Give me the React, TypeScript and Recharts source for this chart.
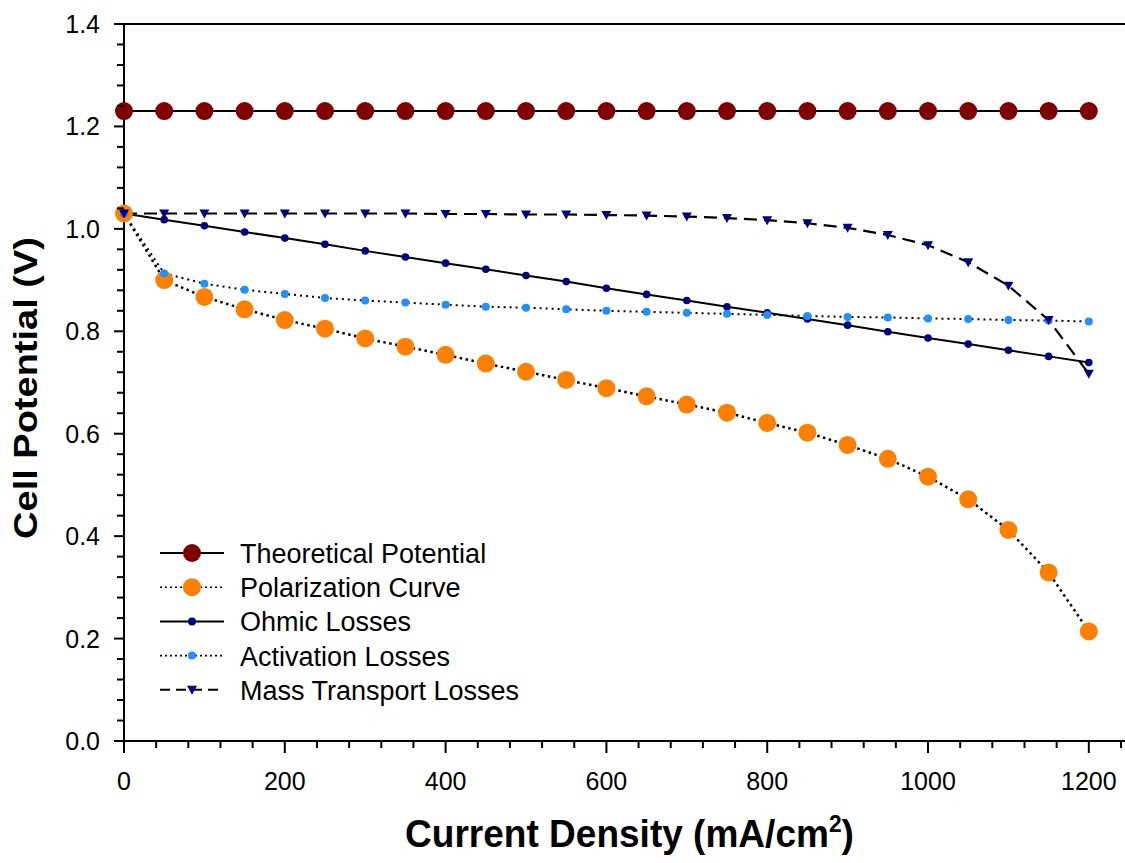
import { LineChart, Line, XAxis, YAxis, ReferenceLine, Legend, Label } from 'recharts';

const FONT = '"Liberation Sans", Arial, Helvetica, sans-serif';

// current density, mA/cm2
const currentDensity = [
  0, 50, 100, 150, 200, 250, 300, 350, 400, 450, 500, 550, 600,
  650, 700, 750, 800, 850, 900, 950, 1000, 1050, 1100, 1150, 1200,
];

// cell potential, V
const theoretical = [
  1.23, 1.23, 1.23, 1.23, 1.23, 1.23, 1.23, 1.23, 1.23, 1.23, 1.23, 1.23, 1.23,
  1.23, 1.23, 1.23, 1.23, 1.23, 1.23, 1.23, 1.23, 1.23, 1.23, 1.23, 1.23,
];
const polarization = [
  1.03, 0.9, 0.867, 0.843, 0.822, 0.805, 0.786, 0.77, 0.754, 0.737, 0.721, 0.705, 0.689,
  0.673, 0.657, 0.641, 0.621, 0.602, 0.578, 0.551, 0.516, 0.472, 0.412, 0.329, 0.214,
];
const ohmic = [
  1.03, 1.018, 1.006, 0.994, 0.982, 0.97, 0.957, 0.945, 0.933, 0.921, 0.909, 0.897, 0.884,
  0.872, 0.86, 0.848, 0.836, 0.824, 0.812, 0.799, 0.787, 0.775, 0.763, 0.751, 0.739,
];
const activation = [
  1.03, 0.913, 0.893, 0.881, 0.873, 0.865, 0.86, 0.856, 0.852, 0.848, 0.846, 0.843, 0.84,
  0.838, 0.836, 0.834, 0.832, 0.83, 0.828, 0.827, 0.825, 0.824, 0.822, 0.821, 0.819,
];
const massTransport = [
  1.03, 1.03, 1.03, 1.03, 1.03, 1.03, 1.03, 1.03, 1.029, 1.029, 1.028, 1.028, 1.027,
  1.026, 1.024, 1.021, 1.017, 1.011, 1.002, 0.988, 0.968, 0.935, 0.889, 0.822, 0.717,
];

const data = currentDensity.map((x, i) => ({
  x,
  theoretical: theoretical[i],
  polarization: polarization[i],
  ohmic: ohmic[i],
  activation: activation[i],
  massTransport: massTransport[i],
}));

// minor ticks every 40 on x, every 0.04 on y; labelled ones every 200 / 0.2
const xTicks = Array.from({ length: 32 }, (_, i) => i * 40);
const yTicks = Array.from({ length: 36 }, (_, i) => Math.round(i * 4) / 100);

const XTick = (props: any) => {
  const { x, y, payload } = props;
  const major = payload.value % 200 === 0;
  return (
    <g>
      <line x1={x} x2={x} y1={y} y2={y + (major ? 12 : 7)} stroke="#000" strokeWidth={2} />
      {major && (
        <text x={x} y={y + 49} textAnchor="middle" fontSize={25} fontFamily={FONT} fill="#000">
          {payload.value}
        </text>
      )}
    </g>
  );
};

const YTick = (props: any) => {
  const { x, y, payload } = props;
  const major = Math.round(payload.value * 100) % 20 === 0;
  return (
    <g>
      <line x1={x - (major ? 10 : 7)} x2={x} y1={y} y2={y} stroke="#000" strokeWidth={2} />
      {major && (
        <text x={x - 24} y={y + 9} textAnchor="end" fontSize={25} fontFamily={FONT} fill="#000">
          {payload.value.toFixed(1)}
        </text>
      )}
    </g>
  );
};

const Triangle = (props: any) => {
  const { cx, cy, index } = props;
  return (
    <path
      key={`tri-${index}`}
      d={`M${cx - 5},${cy - 4} L${cx + 5},${cy - 4} L${cx},${cy + 5} Z`}
      fill="#000080"
    />
  );
};

const series = [
  { name: 'Theoretical Potential', dash: undefined, width: 2, marker: 'circle', r: 9, fill: '#800000' },
  { name: 'Polarization Curve', dash: '2 3', width: 1.6, marker: 'circle', r: 9, fill: '#FF8000' },
  { name: 'Ohmic Losses', dash: undefined, width: 2, marker: 'circle', r: 4, fill: '#000080' },
  { name: 'Activation Losses', dash: '2 3', width: 1.6, marker: 'circle', r: 4, fill: '#1E90FF' },
  { name: 'Mass Transport Losses', dash: '10 6', width: 2, marker: 'triangle', r: 5, fill: '#000080' },
];

const LegendBox = () => (
  <svg width={420} height={180} style={{ display: 'block' }}>
    {series.map((s, i) => {
      const cy = 18 + i * 34.2;
      return (
        <g key={s.name}>
          <line x1={10} x2={74} y1={cy} y2={cy} stroke="#000" strokeWidth={s.width} strokeDasharray={s.dash} />
          {s.marker === 'circle' ? (
            <circle cx={42} cy={cy} r={s.r} fill={s.fill} />
          ) : (
            <path d={`M37,${cy - 4} L47,${cy - 4} L42,${cy + 5} Z`} fill={s.fill} />
          )}
          <text x={90} y={cy + 10} fontSize={27} fontFamily={FONT} fill="#000">
            {s.name}
          </text>
        </g>
      );
    })}
  </svg>
);

const XTitle = (props: any) => {
  const { viewBox } = props;
  const cx = viewBox.x + viewBox.width / 2 + 5;
  return (
    <text
      transform={`translate(${cx},847) scale(0.95,1)`}
      textAnchor="middle"
      fontSize={39}
      fontWeight="bold"
      fontFamily={FONT}
      fill="#000"
    >
      Current Density (mA/cm
      <tspan dy={-15} fontSize={24}>2</tspan>
      <tspan dy={15}>)</tspan>
    </text>
  );
};

const YTitle = () => (
  <text
    transform="translate(37,388) scale(0.88,1) rotate(-90)"
    textAnchor="middle"
    fontSize={38}
    fontWeight="bold"
    fontFamily={FONT}
    fill="#000"
  >
    Cell Potential (V)
  </text>
);

export default function App() {
  return (
    <div style={{ position: 'absolute', left: 0, top: 0, width: 1125, height: 863, background: '#fff' }}>
      <LineChart width={1125} height={863} data={data} margin={{ top: 24, right: 0, bottom: 0, left: 0 }}>
        <XAxis
          dataKey="x"
          type="number"
          domain={[0, 1245]}
          ticks={xTicks}
          interval={0}
          tickSize={0}
          tickMargin={0}
          tickLine={false}
          tick={XTick}
          height={122}
          axisLine={{ stroke: '#000', strokeWidth: 2 }}
        >
          <Label content={XTitle} />
        </XAxis>
        <YAxis
          type="number"
          domain={[0, 1.4]}
          ticks={yTicks}
          interval={0}
          tickSize={0}
          tickMargin={0}
          tickLine={false}
          tick={YTick}
          width={124}
          axisLine={{ stroke: '#000', strokeWidth: 2 }}
        >
          <Label content={YTitle} />
        </YAxis>
        <ReferenceLine y={1.4} stroke="#000" strokeWidth={2} />
        <Line
          dataKey="theoretical"
          name="Theoretical Potential"
          stroke="#000"
          strokeWidth={2}
          dot={{ r: 9, fill: '#800000', stroke: 'none' }}
          activeDot={false}
          isAnimationActive={false}
        />
        <Line
          dataKey="polarization"
          name="Polarization Curve"
          stroke="#000"
          strokeWidth={2.5}
          strokeDasharray="2.5 3.5"
          dot={{ r: 9, fill: '#FF8000', stroke: 'none' }}
          activeDot={false}
          isAnimationActive={false}
        />
        <Line
          dataKey="ohmic"
          name="Ohmic Losses"
          stroke="#000"
          strokeWidth={2}
          dot={{ r: 3.8, fill: '#000080', stroke: 'none' }}
          activeDot={false}
          isAnimationActive={false}
        />
        <Line
          dataKey="activation"
          name="Activation Losses"
          stroke="#000"
          strokeWidth={2}
          strokeDasharray="2 4"
          dot={{ r: 4, fill: '#1E90FF', stroke: 'none' }}
          activeDot={false}
          isAnimationActive={false}
        />
        <Line
          dataKey="massTransport"
          name="Mass Transport Losses"
          stroke="#000"
          strokeWidth={2.2}
          strokeDasharray="13 7"
          dot={Triangle}
          activeDot={false}
          isAnimationActive={false}
        />
        <Legend
          layout="vertical"
          align="center"
          verticalAlign="middle"
          wrapperStyle={{ position: 'absolute', left: 150, top: 535, width: 420, height: 180 }}
          content={LegendBox}
        />
      </LineChart>
    </div>
  );
}
